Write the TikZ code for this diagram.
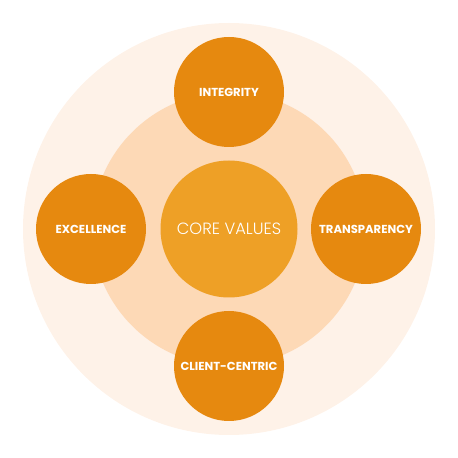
\documentclass[tikz,border=0pt]{standalone}
\usepackage{fontspec}
\setmainfont{Poppins}
\newfontfamily\lightfont{Poppins Light}

\definecolor{palering}{HTML}{FEF2E8}
\definecolor{peachring}{HTML}{FDD9B6}
\definecolor{corefill}{HTML}{EEA026}
\definecolor{valuefill}{HTML}{E6890F}

\begin{document}
\begin{tikzpicture}[x=1pt, y=1pt]

\useasboundingbox (0, 0) rectangle (458, 458);

\fill[palering] (229, 229) circle (206);
\fill[peachring] (229, 229) circle (137);

\node (core) at (229, 229) [circle, minimum size=137, fill=corefill, text=white, font=\lightfont\fontsize{16.3}{18}\selectfont] {CORE VALUES};

\begin{scope}[every node/.style={circle, minimum size=110, inner sep=0pt, fill=valuefill, text=white, font=\bfseries\fontsize{11.6}{13}\selectfont}]
    \node (integrity) at (229, 366) {INTEGRITY};
    \node (excellence) at (91, 229) {EXCELLENCE};
    \node (transparency) at (366, 229) {TRANSPARENCY};
    \node (client) at (229, 92) {CLIENT-CENTRIC};
\end{scope}

\end{tikzpicture}
\end{document}
